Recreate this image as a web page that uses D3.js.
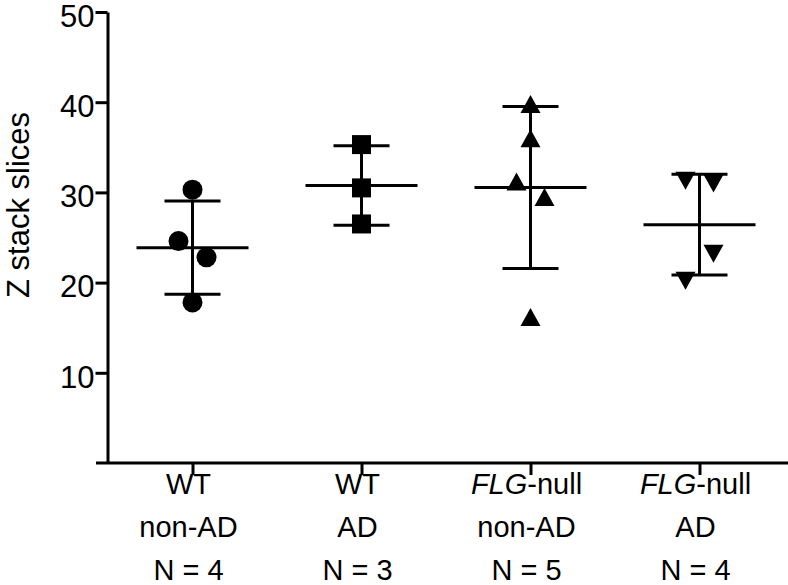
<!DOCTYPE html>
<html>
<head>
<meta charset="utf-8">
<script src="https://cdn.jsdelivr.net/npm/d3@7"></script>
<style>
  body { margin: 0; background: #fff; }
  text { font-family: "Liberation Sans", Arial, Helvetica, sans-serif; fill: #000; }
</style>
</head>
<body>
<div class="chart"></div>
<script>
// Group labels
var genotypes = ["WT", "WT", "FLG-null", "FLG-null"];
var conditions = ["non-AD", "AD", "non-AD", "AD"];
var counts = [4, 3, 5, 4];

// Z stack slices per sample
var wtNonAD = [30.3, 24.6, 22.8, 17.8];
var wtAD = [35.3, 30.5, 26.5];
var flgNonAD = [39.8, 36.0, 31.2, 29.5, 16.2];
var flgAD = [31.3, 31.0, 20.2, 23.2];

var yTicks = [10, 20, 30, 40, 50];

var groups = [wtNonAD, wtAD, flgNonAD, flgAD];
var markers = ["circle", "square", "up", "down"];

var svgWidth = 788;
var svgHeight = 585;

var svg = d3.select(".chart")
  .append("svg")
  .attr("width", svgWidth)
  .attr("height", svgHeight);

// scales
var x = d3.scalePoint()
  .domain(d3.range(groups.length))
  .range([108, 784])
  .padding(0.5);

var y = d3.scaleLinear()
  .domain([0, 50])
  .range([463, 12]);

// y axis
var leftAxis = d3.axisLeft(y)
  .tickValues(yTicks)
  .tickSize(12)
  .tickSizeOuter(0)
  .tickPadding(1);

var yAxis = svg.append("g")
  .attr("transform", "translate(107.5,0)")
  .call(leftAxis);
yAxis.selectAll("path, line").attr("stroke", "#000").attr("stroke-width", 3);
yAxis.selectAll("text")
  .style("font-size", "31px")
  .attr("dy", "0.46em")
  .attr("fill", "#000");

// x axis line, runs a little past the y axis on the left
svg.append("line")
  .attr("x1", 96).attr("x2", svgWidth)
  .attr("y1", y(0)).attr("y2", y(0))
  .attr("stroke", "#000").attr("stroke-width", 3);

var bottomAxis = d3.axisBottom(x).tickSize(12).tickSizeOuter(0).tickFormat("");
var xAxis = svg.append("g")
  .attr("transform", "translate(0," + y(0) + ")")
  .call(bottomAxis);
xAxis.select(".domain").remove();
xAxis.selectAll("line").attr("stroke", "#000").attr("stroke-width", 3);

// category labels, three lines each
groups.forEach(function(vals, i) {
  var lx = x(i) - 4;
  var t = svg.append("text")
    .attr("x", lx)
    .attr("text-anchor", "middle")
    .style("font-size", "29px");

  var line1 = t.append("tspan").attr("x", lx).attr("y", 494);
  if (genotypes[i].indexOf("FLG") === 0) {
    line1.append("tspan").style("font-style", "italic").text("FLG");
    line1.append("tspan").text(genotypes[i].slice(3));
  } else {
    line1.text(genotypes[i]);
  }
  t.append("tspan").attr("x", lx).attr("y", 537).text(conditions[i]);
  t.append("tspan").attr("x", lx).attr("y", 580).text("N = " + counts[i]);
});

// y axis title
svg.append("text")
  .attr("transform", "translate(29,205) rotate(-90)")
  .attr("text-anchor", "middle")
  .style("font-size", "31px")
  .text("Z stack slices");

// spread points that sit too close in y into a centred row
function spread(vals) {
  var order = d3.range(vals.length).sort(function(a, b) { return vals[b] - vals[a]; });
  var offsets = new Array(vals.length).fill(0);
  var cluster = [order[0]];
  function flush() {
    cluster.sort(function(a, b) { return a - b; });
    cluster.forEach(function(idx, k) {
      offsets[idx] = (k - (cluster.length - 1) / 2) * 28;
    });
  }
  for (var k = 1; k < order.length; k++) {
    var prev = order[k - 1];
    var cur = order[k];
    if (Math.abs(y(vals[prev]) - y(vals[cur])) < 30) {
      cluster.push(cur);
    } else {
      flush();
      cluster = [cur];
    }
  }
  flush();
  return offsets;
}

function markerPath(kind) {
  if (kind === "square") return "M-9.5,-9.5H9.5V9.5H-9.5Z";
  if (kind === "up") return "M0,-9L10,9H-10Z";
  if (kind === "down") return "M0,9L10,-9H-10Z";
  return null;
}

var chart = svg.append("g");

groups.forEach(function(vals, i) {
  var cx = x(i);
  var m = d3.mean(vals);
  var sd = d3.deviation(vals);
  var g = chart.append("g");

  // error bar (mean +/- SD)
  g.append("line")
    .attr("x1", cx).attr("x2", cx)
    .attr("y1", y(m + sd)).attr("y2", y(m - sd))
    .attr("stroke", "#000").attr("stroke-width", 3);
  [m + sd, m - sd].forEach(function(v) {
    g.append("line")
      .attr("x1", cx - 28).attr("x2", cx + 28)
      .attr("y1", y(v)).attr("y2", y(v))
      .attr("stroke", "#000").attr("stroke-width", 3);
  });

  // mean
  g.append("line")
    .attr("x1", cx - 56).attr("x2", cx + 56)
    .attr("y1", y(m)).attr("y2", y(m))
    .attr("stroke", "#000").attr("stroke-width", 3);

  var offs = spread(vals);
  var kind = markers[i];

  if (kind === "circle") {
    g.selectAll("circle")
      .data(vals)
      .enter()
      .append("circle")
      .attr("cx", function(d, j) { return cx + offs[j]; })
      .attr("cy", function(d) { return y(d); })
      .attr("r", 10)
      .attr("fill", "#000");
  } else {
    g.selectAll("path.pt")
      .data(vals)
      .enter()
      .append("path")
      .attr("class", "pt")
      .attr("d", markerPath(kind))
      .attr("transform", function(d, j) {
        return "translate(" + (cx + offs[j]) + "," + y(d) + ")";
      })
      .attr("fill", "#000");
  }
});
</script>
</body>
</html>
